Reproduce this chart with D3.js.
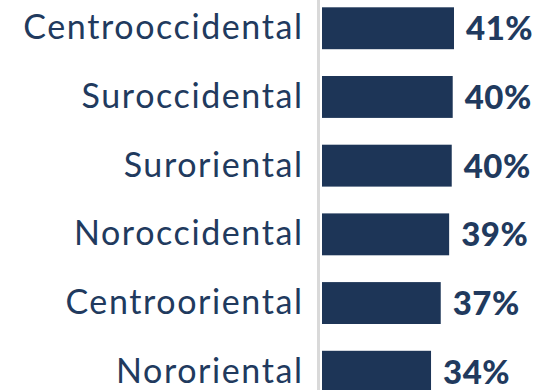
<!DOCTYPE html>
<html>
<head>
<meta charset="utf-8">
<script src="https://cdn.jsdelivr.net/npm/d3@7"></script>
<style>
  html, body { margin: 0; padding: 0; background: #ffffff; }
  svg { display: block; }
</style>
</head>
<body>
<svg id="chart" width="540" height="390"></svg>
<script>
const categories = ["Centrooccidental", "Suroccidental", "Suroriental", "Noroccidental", "Centrooriental", "Nororiental"];
const values = [40.8, 40.4, 40.1, 39.3, 36.7, 33.7];

const W = 540, H = 390;
const svg = d3.select("#chart");
const navy = "#1d3557";
const textNavy = "#213a5e";

const y = d3.scaleBand()
  .domain(categories)
  .range([7.3, 392.7])
  .paddingInner(0.39)
  .paddingOuter(0);

const x = d3.scaleLinear()
  .domain([0, 40.8])
  .range([322, 454]);

// vertical axis line
svg.append("line")
  .attr("x1", 318.5).attr("x2", 318.5)
  .attr("y1", 0).attr("y2", H)
  .attr("stroke", "#d9d9d9")
  .attr("stroke-width", 3);

const data = categories.map((c, i) => ({ c, v: values[i] }));

svg.selectAll("rect.bar")
  .data(data)
  .join("rect")
  .attr("class", "bar")
  .attr("x", x(0))
  .attr("y", d => y(d.c))
  .attr("width", d => x(d.v) - x(0))
  .attr("height", y.bandwidth())
  .attr("fill", navy);

svg.selectAll("text.cat")
  .data(data)
  .join("text")
  .attr("class", "cat")
  .attr("x", 303.6)
  .attr("y", d => y(d.c) + y.bandwidth() / 2 + 11)
  .attr("text-anchor", "end")
  .attr("font-family", "Lato, sans-serif")
  .attr("font-size", 34)
  .attr("letter-spacing", 1.6)
  .attr("fill", textNavy)
  .text(d => d.c);

svg.selectAll("text.val")
  .data(data)
  .join("text")
  .attr("class", "val")
  .attr("x", d => x(d.v) + 12)
  .attr("y", d => y(d.c) + y.bandwidth() / 2 + 12)
  .attr("font-family", "Lato, sans-serif")
  .attr("font-weight", 900)
  .attr("font-size", 33)
  .attr("letter-spacing", 0.5)
  .attr("fill", textNavy)
  .text(d => d3.format(".0f")(d.v) + "%");
</script>
</body>
</html>
